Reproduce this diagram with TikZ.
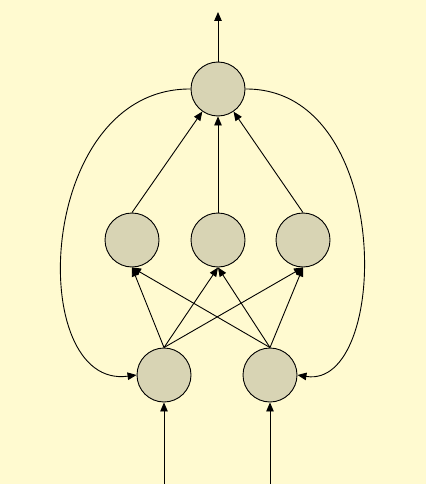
\documentclass[tikz,border=0pt]{standalone}
\usetikzlibrary{arrows.meta}
\definecolor{bgc}{RGB}{255,250,208}
\definecolor{nodec}{RGB}{216,212,180}
\begin{document}
\begin{tikzpicture}[x=1pt,y=-1pt,
  neuron/.style={circle,draw=black,fill=nodec,line width=0.9pt,minimum size=54pt,inner sep=0pt},
  conn/.style={line width=0.9pt,-{Triangle[length=9pt,width=7.5pt]}}]
\fill[bgc] (0,0) rectangle (426,484);
\useasboundingbox (0,0) rectangle (426,484);
\node[neuron] (o) at (218,89) {};
\node[neuron] (h1) at (132,240) {};
\node[neuron] (h2) at (218,240) {};
\node[neuron] (h3) at (303,240) {};
\node[neuron] (i1) at (164,375) {};
\node[neuron] (i2) at (270,375) {};
\coordinate (top) at (218,12);
\coordinate (in1) at (164,484);
\coordinate (in2) at (270,484);
\draw[conn] (o.north) -- (top);
\draw[conn] (in1) -- (i1.south);
\draw[conn] (in2) -- (i2.south);
\foreach \i in {i1,i2}{
  \foreach \h in {h1,h2,h3}{
    \draw[conn] (\i.north) -- (\h.south);
  }
}
\foreach \h in {h1,h2,h3}{
  \draw[conn] (\h.north) -- (o);
}
\draw[conn] (o.west) .. controls (35,88) and (25,390) .. (i1.west);
\draw[conn] (o.east) .. controls (395,88) and (390,390) .. (i2.east);
\end{tikzpicture}
\end{document}
